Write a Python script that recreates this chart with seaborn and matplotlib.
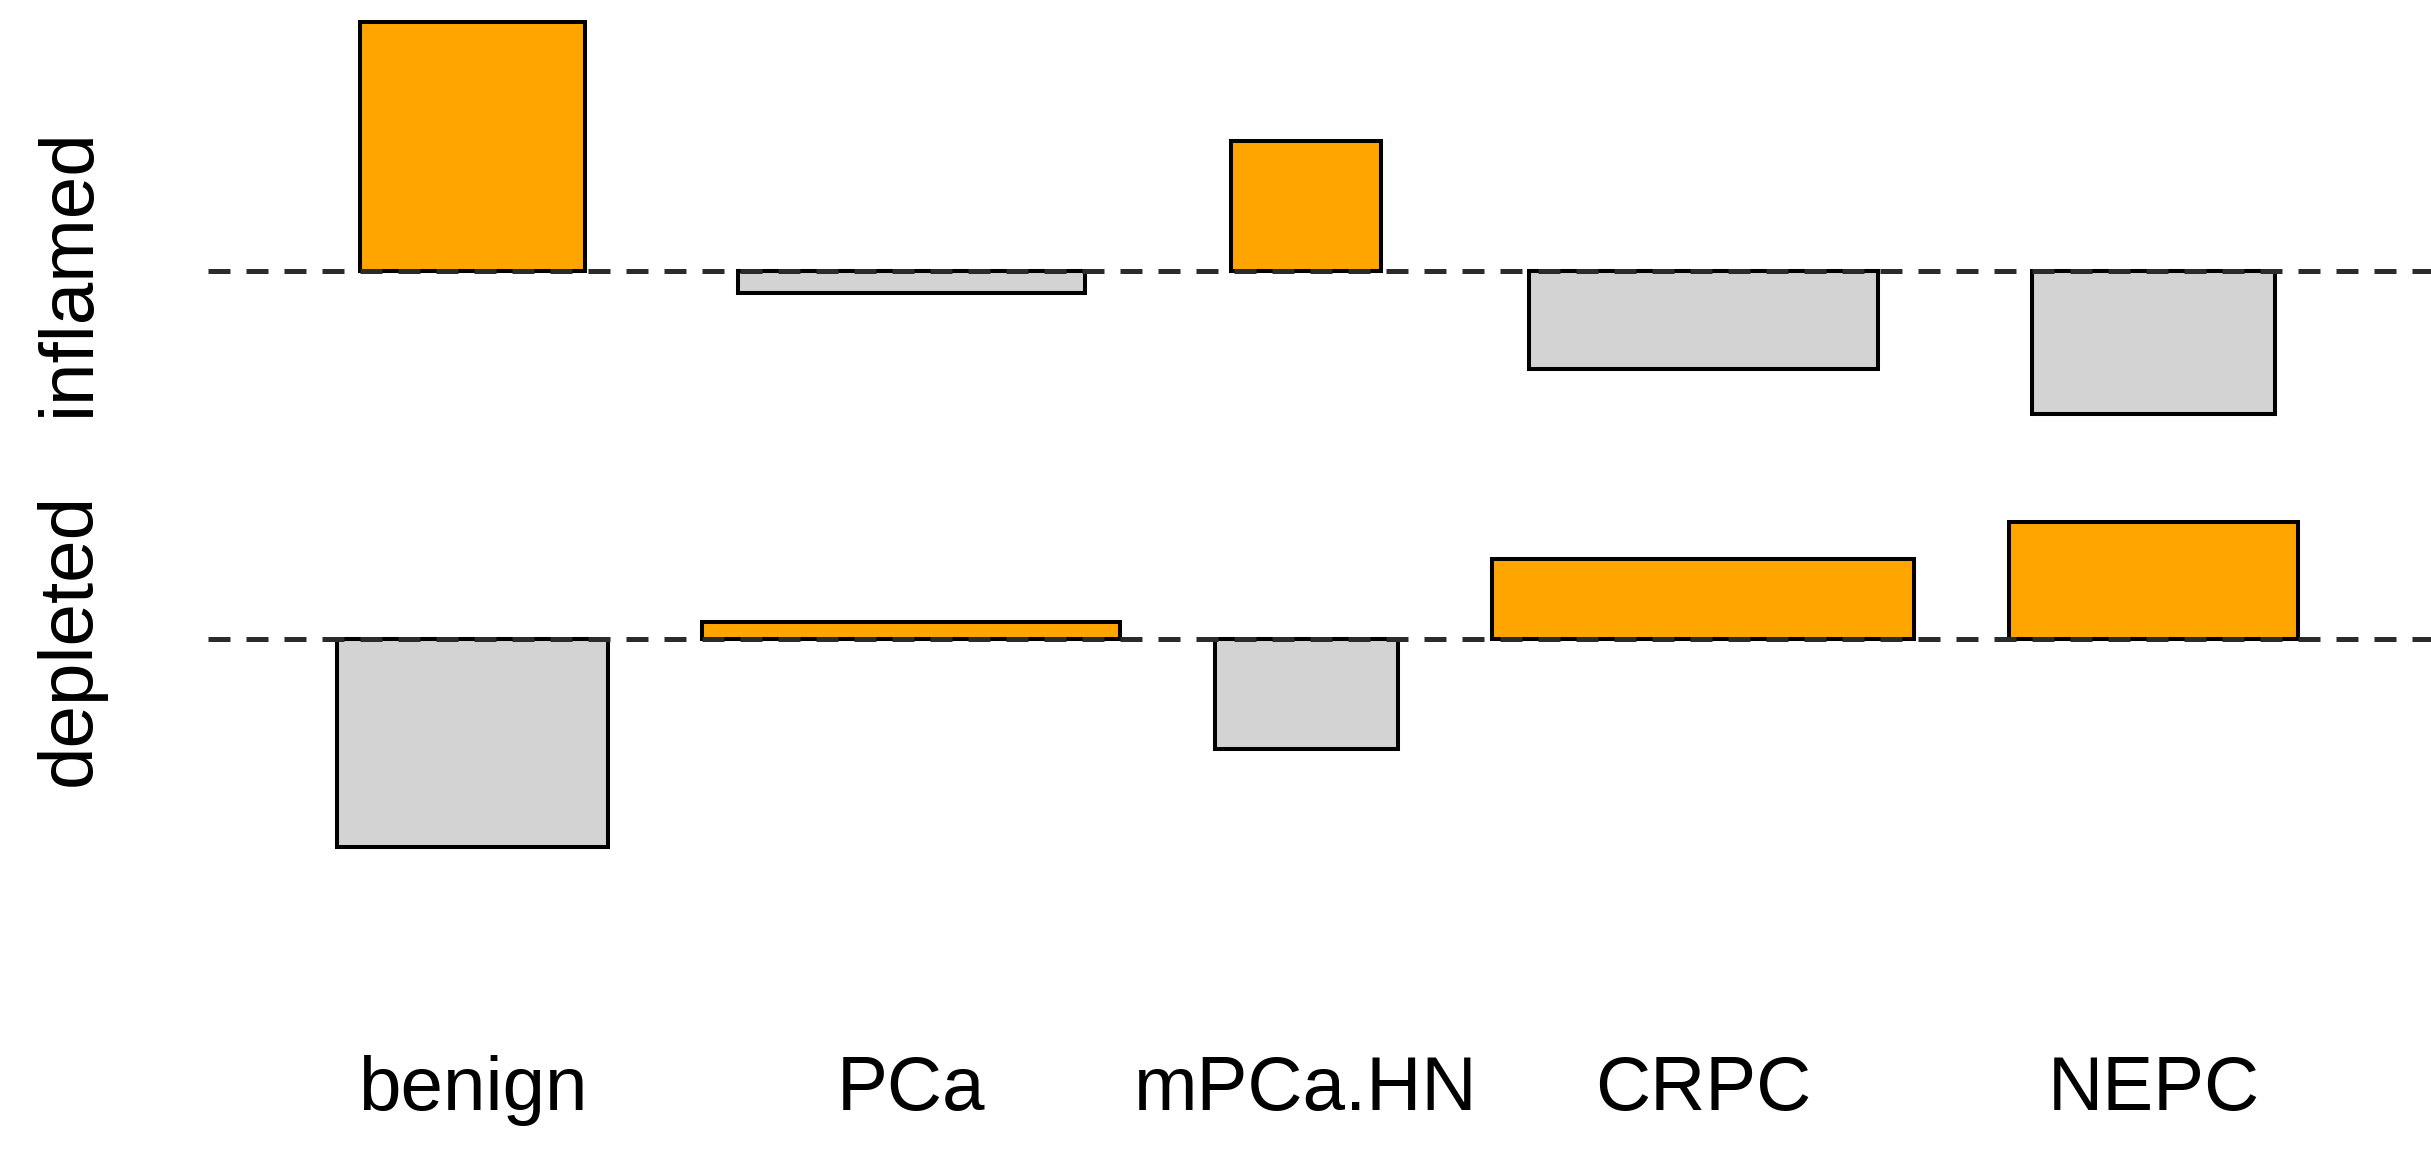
import numpy as np
import pandas as pd
import matplotlib.pyplot as plt
import seaborn as sns

# association plot: bar height = residual, bar width = sqrt(expected)
categories = ['benign', 'PCa', 'mPCa.HN', 'CRPC', 'NEPC']
rows = ['inflamed', 'depleted']
inflamed_resid = [1.61, -0.14, 0.84, -0.63, -0.92]
depleted_resid = [-1.34, 0.11, -0.71, 0.52, 0.755]
inflamed_width = [1.45, 2.24, 0.97, 2.25, 1.57]
depleted_width = [1.745, 2.695, 1.18, 2.72, 1.87]

sns.set_theme(style='white')
plt.rcParams['font.family'] = ['Liberation Sans', 'DejaVu Sans']

col_gap = 0.61
row_gap = 0.70

# column centres from the widest bar in each column plus a gap
max_w = np.maximum(inflamed_width, depleted_width)
centers = np.cumsum(np.r_[max_w[0] / 2, (max_w[:-1] + max_w[1:]) / 2 + col_gap])

base_infl = 0.0
base_depl = base_infl - (max(-min(inflamed_resid), 0) + row_gap + max(max(depleted_resid), 0))

df = pd.DataFrame({
    'category': categories * 2,
    'row': [rows[0]] * 5 + [rows[1]] * 5,
    'resid': inflamed_resid + depleted_resid,
    'width': inflamed_width + depleted_width,
    'center': list(centers) * 2,
    'base': [base_infl] * 5 + [base_depl] * 5,
})
df['color'] = np.where(df['resid'] > 0, 'orange', 'lightgray')

fig = plt.figure(figsize=(24.31, 11.53), dpi=100)
ax = fig.add_axes([0, 0, 1, 1])

ax.bar(df['center'], df['resid'], width=df['width'], bottom=df['base'],
       color=df['color'], edgecolor='black', linewidth=2.9, zorder=2)

for base in [base_infl, base_depl]:
    ax.axhline(base, xmin=0.0855, xmax=1, color='#2b2b2b', lw=3.6,
               ls=(0, (4.4, 3.2)), zorder=3)

ax.set_xlim(-2.175, 13.505)
ax.set_ylim(-5.69, 1.75)
ax.axis('off')

for c, cat in zip(centers, categories):
    ax.text(c, -5.41, cat, ha='center', va='baseline', fontsize=55, color='black')

for base, name in zip([base_infl, base_depl], rows):
    ax.text(-1.725, base, name, rotation=90, ha='center', va='center',
            fontsize=55, color='black')

fig.savefig('out.png', dpi=100)
